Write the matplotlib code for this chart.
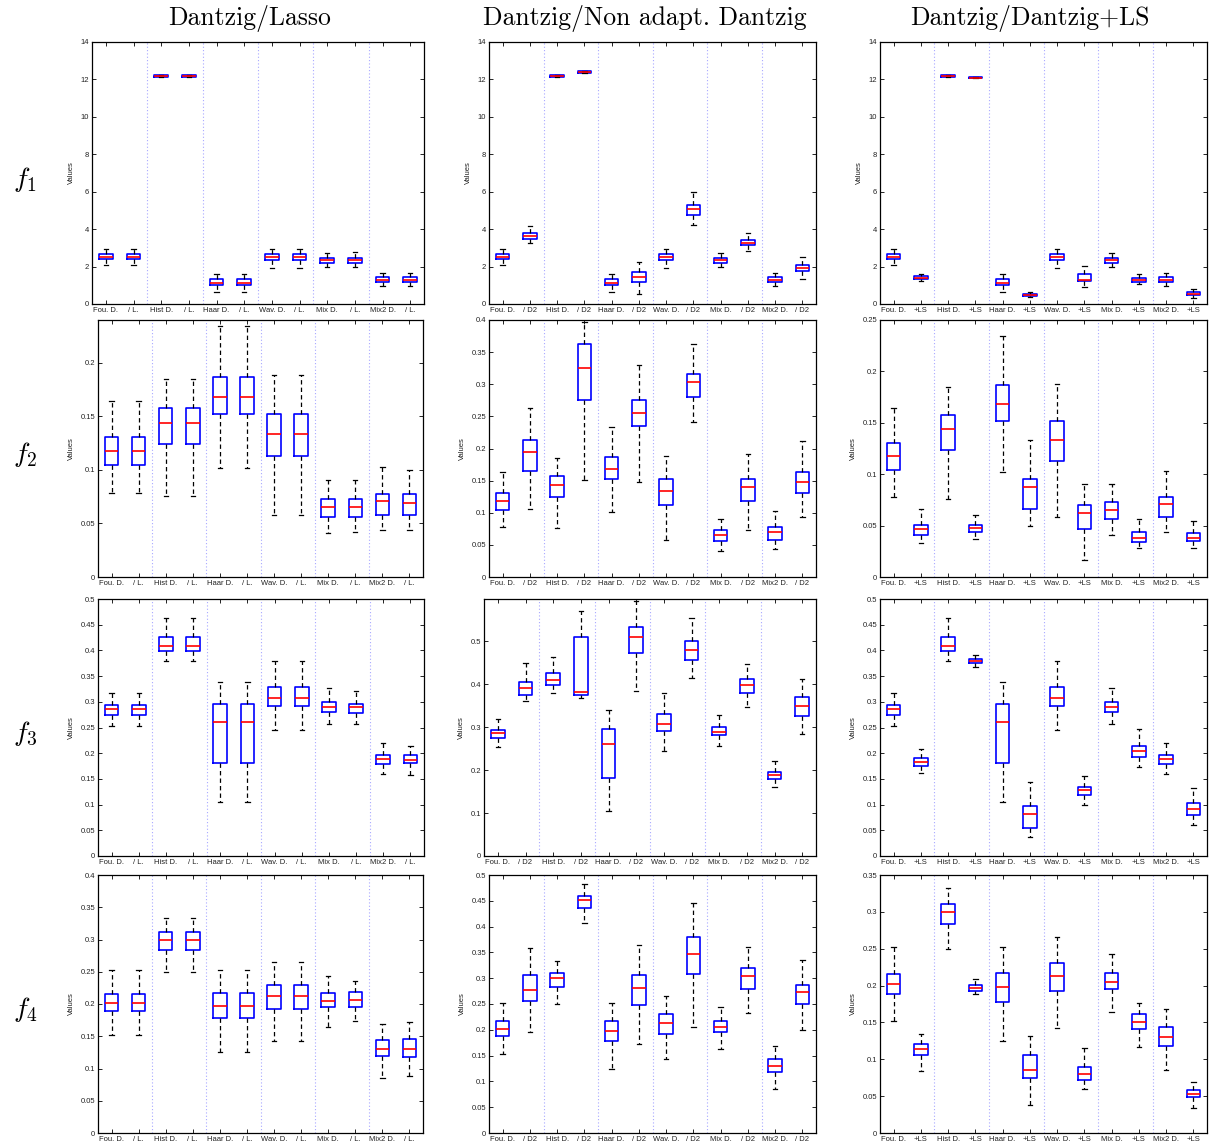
import matplotlib
matplotlib.use("Agg")
import matplotlib.pyplot as plt
from matplotlib.ticker import MultipleLocator, FormatStrFormatter

# ---------------- data ----------------
BASES = ['Fou. D.', 'Hist D.', 'Haar D.', 'Wav. D.', 'Mix D.', 'Mix2 D.']
SUFFIXES = ['/ L.', '/ D2', '+LS']
COL_TITLES = ['Dantzig/Lasso', 'Dantzig/Non adapt. Dantzig', 'Dantzig/Dantzig+LS']
ROW_LABELS = [r'$f_1$', r'$f_2$', r'$f_3$', r'$f_4$']

# each box: (whisker low, q1, median, q3, whisker high), one per base method
F1_DANTZIG = [(2.08, 2.38, 2.50, 2.65, 2.95), (12.12, 12.15, 12.18, 12.22, 12.25),
              (0.62, 1.00, 1.14, 1.32, 1.62), (1.92, 2.35, 2.50, 2.68, 2.95),
              (2.00, 2.20, 2.33, 2.45, 2.72), (0.95, 1.20, 1.30, 1.42, 1.67)]
F1_LASSO = [(2.08, 2.38, 2.50, 2.65, 2.95), (12.12, 12.15, 12.18, 12.22, 12.25),
            (0.62, 1.00, 1.14, 1.32, 1.62), (1.92, 2.35, 2.50, 2.68, 2.95),
            (2.00, 2.20, 2.33, 2.45, 2.76), (0.97, 1.20, 1.30, 1.42, 1.65)]
F1_D2 = [(3.25, 3.50, 3.62, 3.78, 4.15), (12.34, 12.37, 12.40, 12.43, 12.46),
         (0.52, 1.15, 1.42, 1.70, 2.25), (4.22, 4.75, 5.05, 5.28, 5.98),
         (2.82, 3.15, 3.28, 3.42, 3.78), (1.32, 1.75, 1.90, 2.10, 2.52)]
F1_LS = [(1.25, 1.32, 1.40, 1.48, 1.58), (12.08, 12.09, 12.10, 12.11, 12.12),
         (0.35, 0.44, 0.50, 0.55, 0.62), (0.92, 1.22, 1.30, 1.62, 2.05),
         (1.05, 1.18, 1.27, 1.38, 1.58), (0.30, 0.48, 0.55, 0.65, 0.82)]

F2_DANTZIG = [(0.078, 0.1045, 0.118, 0.1306, 0.164), (0.076, 0.1238, 0.1437, 0.1574, 0.1848),
              (0.1017, 0.1521, 0.168, 0.1872, 0.234), (0.058, 0.1126, 0.1337, 0.1521, 0.1882),
              (0.0411, 0.056, 0.0656, 0.0731, 0.0905), (0.0435, 0.0582, 0.0706, 0.0778, 0.103)]
F2_LASSO = [(0.078, 0.1045, 0.118, 0.1306, 0.164), (0.076, 0.1238, 0.1437, 0.1574, 0.1848),
            (0.1017, 0.1521, 0.168, 0.1872, 0.234), (0.058, 0.1126, 0.1337, 0.1521, 0.1882),
            (0.0416, 0.056, 0.0656, 0.0731, 0.0905), (0.0435, 0.0582, 0.0694, 0.0771, 0.0995)]
F2_D2 = [(0.1063, 0.1656, 0.1943, 0.213, 0.2625), (0.1505, 0.275, 0.326, 0.3625, 0.3964),
         (0.1479, 0.2344, 0.2557, 0.276, 0.3307), (0.241, 0.2807, 0.303, 0.316, 0.362),
         (0.0734, 0.1182, 0.1401, 0.1526, 0.1917), (0.0932, 0.1302, 0.148, 0.1635, 0.212)]
F2_LS = [(0.0331, 0.0409, 0.0464, 0.0509, 0.0661), (0.0373, 0.0438, 0.0473, 0.0509, 0.0606),
         (0.0499, 0.0661, 0.0879, 0.0957, 0.133), (0.0162, 0.047, 0.0626, 0.070, 0.0908),
         (0.0282, 0.0337, 0.0383, 0.0441, 0.0567), (0.0282, 0.0347, 0.0376, 0.0425, 0.0548)]

F3_DANTZIG = [(0.2529, 0.2743, 0.2853, 0.2931, 0.3178), (0.380, 0.3988, 0.4092, 0.4254, 0.463),
              (0.1051, 0.1816, 0.2607, 0.2951, 0.3392), (0.2445, 0.2912, 0.3067, 0.3294, 0.3787),
              (0.2562, 0.2808, 0.2892, 0.3003, 0.3275), (0.1602, 0.179, 0.1881, 0.1958, 0.2205)]
F3_LASSO = [(0.2529, 0.2743, 0.2853, 0.2931, 0.3178), (0.380, 0.3988, 0.4092, 0.4254, 0.463),
            (0.1051, 0.1816, 0.2607, 0.2951, 0.3392), (0.2445, 0.2912, 0.3067, 0.3294, 0.3787),
            (0.2562, 0.2776, 0.2905, 0.2964, 0.321), (0.1576, 0.1803, 0.1874, 0.1958, 0.2147)]
F3_D2 = [(0.3615, 0.3738, 0.3908, 0.406, 0.4485), (0.3685, 0.3754, 0.3815, 0.5092, 0.5708),
         (0.3838, 0.4723, 0.5085, 0.5338, 0.5923), (0.4146, 0.4554, 0.4785, 0.500, 0.5538),
         (0.3462, 0.3792, 0.3985, 0.4123, 0.4462), (0.2838, 0.3262, 0.3492, 0.3692, 0.4108)]
F3_LS = [(0.1621, 0.1757, 0.1822, 0.1907, 0.2088), (0.367, 0.3748, 0.3787, 0.3826, 0.391),
         (0.0376, 0.0551, 0.0824, 0.0973, 0.1446), (0.0986, 0.118, 0.1284, 0.1349, 0.155),
         (0.1725, 0.192, 0.205, 0.214, 0.2471), (0.0597, 0.0791, 0.0914, 0.1025, 0.1317)]

F4_DANTZIG = [(0.1523, 0.1886, 0.2016, 0.2161, 0.2528), (0.2497, 0.2839, 0.2995, 0.3109, 0.3326),
              (0.1249, 0.1782, 0.1974, 0.2171, 0.2528), (0.1425, 0.1927, 0.213, 0.230, 0.2653),
              (0.1637, 0.1948, 0.2052, 0.2166, 0.2435), (0.086, 0.1187, 0.130, 0.1435, 0.1684)]
F4_LASSO = [(0.1523, 0.1886, 0.2016, 0.2161, 0.2528), (0.2497, 0.2839, 0.2995, 0.3109, 0.3326),
            (0.1249, 0.1782, 0.1974, 0.2171, 0.2528), (0.1425, 0.1927, 0.213, 0.230, 0.2653),
            (0.1741, 0.1959, 0.2057, 0.2187, 0.2363), (0.0886, 0.1176, 0.1295, 0.1451, 0.172)]
F4_D2 = [(0.195, 0.2565, 0.2766, 0.3063, 0.3582), (0.4074, 0.4359, 0.4508, 0.4585, 0.4819),
         (0.1716, 0.2487, 0.2811, 0.3057, 0.3634), (0.206, 0.3076, 0.3465, 0.3808, 0.445),
         (0.2332, 0.2791, 0.305, 0.3206, 0.3601), (0.2001, 0.2506, 0.274, 0.2863, 0.3355)]
F4_LS = [(0.0843, 0.1052, 0.1133, 0.121, 0.1337), (0.1886, 0.1931, 0.1972, 0.2013, 0.209),
         (0.0376, 0.0743, 0.0857, 0.1061, 0.1319), (0.0603, 0.0716, 0.0807, 0.0889, 0.1147),
         (0.1165, 0.1405, 0.151, 0.1609, 0.1759), (0.034, 0.0485, 0.0535, 0.058, 0.0698)]

ROWS = [
    (F1_DANTZIG, [F1_LASSO, F1_D2, F1_LS]),
    (F2_DANTZIG, [F2_LASSO, F2_D2, F2_LS]),
    (F3_DANTZIG, [F3_LASSO, F3_D2, F3_LS]),
    (F4_DANTZIG, [F4_LASSO, F4_D2, F4_LS]),
]
YMAX = [[14, 14, 14], [0.24, 0.4, 0.25], [0.5, 0.598, 0.5], [0.4, 0.5, 0.35]]
YSTEP = [[2, 2, 2], [0.05, 0.05, 0.05], [0.05, 0.1, 0.05], [0.05, 0.05, 0.05]]

# ---------------- layout (pixels) ----------------
W, H = 1217, 1146
ROW_TB = [(42, 304), (320, 577), (599, 856), (875, 1133)]
COL_LR = [[(92, 424), (489, 816), (880, 1207)],
          [(98, 423), (489, 816), (880, 1207)],
          [(98, 424), (484, 816), (880, 1207)],
          [(98, 423), (489, 816), (880, 1207)]]

plt.rcParams['mathtext.fontset'] = 'cm'
TICKFONT = ['Liberation Sans', 'DejaVu Sans']

fig = plt.figure(figsize=(W / 100, H / 100), dpi=100)

for r, (dz, variants) in enumerate(ROWS):
    top, bot = ROW_TB[r]
    for c in range(3):
        left, right = COL_LR[r][c]
        ax = fig.add_axes([left / W, 1 - bot / H, (right - left) / W, (bot - top) / H])
        var = variants[c]
        stats, labels = [], []
        for i in range(6):
            for src, lab in ((dz[i], BASES[i]), (var[i], SUFFIXES[c])):
                lo, q1, med, q3, hi = src
                stats.append(dict(whislo=lo, q1=q1, med=med, q3=q3, whishi=hi, fliers=[]))
                labels.append(lab)
        pos = list(range(1, 13))
        for k in range(1, 6):
            ax.axvline(2 * k + 0.5, color='#a8a8ff', lw=0.8, linestyle=(0, (1, 2)), zorder=1)
        ax.bxp(stats, positions=pos, widths=0.5, capwidths=0.16, showfliers=False,
               manage_ticks=False,
               boxprops=dict(color='#0000ff', lw=1.2),
               medianprops=dict(color='#ff0000', lw=1.2),
               whiskerprops=dict(color='black', lw=0.9, linestyle=(0, (3.5, 2.5))),
               capprops=dict(color='black', lw=0.9))
        ax.set_xlim(0.5, 12.5)
        ax.set_ylim(0, YMAX[r][c])
        ax.yaxis.set_major_locator(MultipleLocator(YSTEP[r][c]))
        ax.yaxis.set_major_formatter(FormatStrFormatter('%g'))
        ax.set_xticks(pos)
        ax.set_xticklabels(labels)
        ax.tick_params(direction='in', top=True, right=True, length=3, width=0.6,
                       labelsize=5.5, pad=2, colors='black', labelcolor='#222222')
        for t in ax.get_xticklabels() + ax.get_yticklabels():
            t.set_family(TICKFONT)
        for s in ax.spines.values():
            s.set_linewidth(0.9)
        ax.set_ylabel('Values', fontsize=5.5, family=TICKFONT, labelpad=4, color='#222222')

TITLE_X = [250, 645, 1030]
for c in range(3):
    fig.text(TITLE_X[c] / W, 1 - 18 / H, COL_TITLES[c], family='cmr10', fontsize=18.5,
             ha='center', va='center')
for r in range(4):
    top, bot = ROW_TB[r]
    fig.text(25 / W, 1 - ((top + bot) / 2 + 6) / H, ROW_LABELS[r], fontsize=20,
             ha='center', va='center')

fig.savefig('out.png', dpi=100)
